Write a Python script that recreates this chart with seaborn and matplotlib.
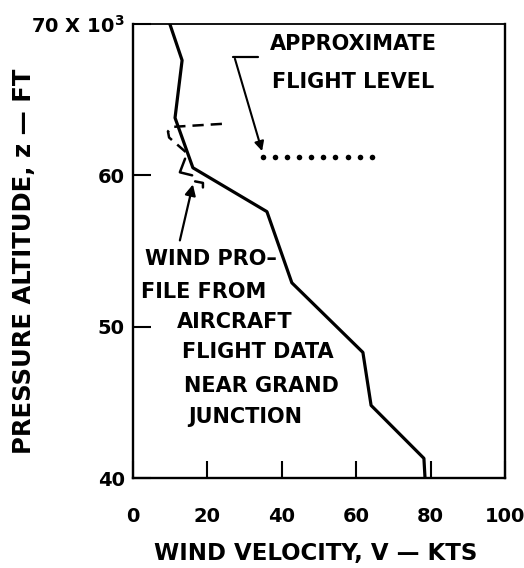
import matplotlib
matplotlib.use("Agg")
import matplotlib.pyplot as plt
import seaborn as sns

# Wind profile (velocity in knots, pressure altitude in thousands of feet)
profile_v = [9.9, 13.2, 11.3, 16.1, 36.0, 42.7, 61.8, 64.0, 78.2, 78.5]
profile_z = [70.0, 67.6, 63.8, 60.5, 57.6, 52.9, 48.3, 44.8, 41.3, 40.0]

# Alternate (dashed) branch near 62,000 ft
branch_v = [23.9, 10.5, 9.4, 9.7, 15.3]
branch_z = [63.4, 63.2, 62.9, 62.5, 61.3]

# Small jogs in the trace below the branch
jog_v = [14.0, 12.6, 15.9]
jog_z = [61.1, 60.2, 60.0]
hook_v = [16.7, 18.8, 18.8]
hook_z = [59.6, 59.5, 59.2]

# Approximate flight level
flight_v = [34.9, 38.2, 41.4, 44.7, 47.9, 51.2, 54.4, 57.7, 60.9, 64.2]
flight_z = [61.2] * len(flight_v)

x_ticks = [0, 20, 40, 60, 80, 100]
x_ticklabels = ["0", "20", "40", "60", "80", "100"]
y_ticks = [40, 50, 60, 70]
y_ticklabels = ["40", "50", "60", "70 X 10$^3$"]

sns.set_theme(style="white")
plt.rcParams["font.family"] = ["DejaVu Sans"]
plt.rcParams["mathtext.default"] = "regular"

fig = plt.figure(figsize=(5.24, 5.68), dpi=100)
ax = fig.add_axes([133 / 524, 1 - 478 / 568, 372 / 524, 454 / 568])
ax.set_facecolor("white")

sns.lineplot(x=profile_v, y=profile_z, sort=False, estimator=None,
             color="black", lw=2.3, ax=ax)
sns.lineplot(x=branch_v, y=branch_z, sort=False, estimator=None,
             color="black", lw=1.8, ax=ax)
ax.lines[-1].set_dashes([4.5, 2.8])
sns.lineplot(x=jog_v, y=jog_z, sort=False, estimator=None,
             color="black", lw=1.8, ax=ax)
sns.lineplot(x=hook_v, y=hook_z, sort=False, estimator=None,
             color="black", lw=1.8, ax=ax)
sns.scatterplot(x=flight_v, y=flight_z, s=16, color="black",
                edgecolor="black", linewidth=0, ax=ax)

ax.set_xlim(0, 100)
ax.set_ylim(40, 70)
ax.set_xticks(x_ticks)
ax.set_xticklabels(x_ticklabels)
ax.set_yticks(y_ticks)
ax.set_yticklabels(y_ticklabels)

font = dict(family="DejaVu Sans", fontweight="bold", color="black")
ax.tick_params(axis="x", bottom=True, direction="in", length=12, width=1.5,
               pad=21, labelsize=14, colors="black")
ax.tick_params(axis="y", left=True, direction="in", length=13, width=1.5,
               pad=6, labelsize=14, colors="black")
for lab in ax.get_xticklabels() + ax.get_yticklabels():
    lab.set_fontweight("bold")

for side in ["left", "right", "top", "bottom"]:
    ax.spines[side].set_visible(True)
    ax.spines[side].set_color("black")
    ax.spines[side].set_linewidth(1.7)
ax.spines["top"].set_linewidth(1.3)

ax.set_xlabel("WIND VELOCITY, V \u2014 KTS", fontsize=16.5, **font)
ax.set_ylabel("PRESSURE ALTITUDE, z \u2014 FT", fontsize=17.5, **font)
ax.xaxis.set_label_coords(0.492, -0.14)
ax.yaxis.set_label_coords(-0.262, 0.478)

# Flight-level callout
ax.text(36.8, 68.7, "APPROXIMATE", fontsize=15, va="center", ha="left", **font)
ax.text(37.4, 66.2, "FLIGHT LEVEL", fontsize=15, va="center", ha="left", **font)
ax.plot([26.9, 33.6], [67.8, 67.8], color="black", lw=1.6)
ax.annotate("", xy=(34.7, 61.6), xytext=(27.4, 67.7),
            arrowprops=dict(arrowstyle="-|>", color="black", lw=1.5,
                            mutation_scale=14, shrinkA=0, shrinkB=0))

# Wind-profile callout
callout = [
    (3.2, 54.5, "WIND PRO\u2013"),
    (2.2, 52.3, "FILE FROM"),
    (11.8, 50.3, "AIRCRAFT"),
    (13.2, 48.3, "FLIGHT DATA"),
    (13.7, 46.1, "NEAR GRAND"),
    (14.8, 44.0, "JUNCTION"),
]
for x, y, s in callout:
    ax.text(x, y, s, fontsize=15, va="center", ha="left", **font)
ax.annotate("", xy=(16.1, 59.4), xytext=(12.6, 55.7),
            arrowprops=dict(arrowstyle="-|>", color="black", lw=1.6,
                            mutation_scale=16, shrinkA=0, shrinkB=0))

fig.savefig("out.png", dpi=100, facecolor="white")
